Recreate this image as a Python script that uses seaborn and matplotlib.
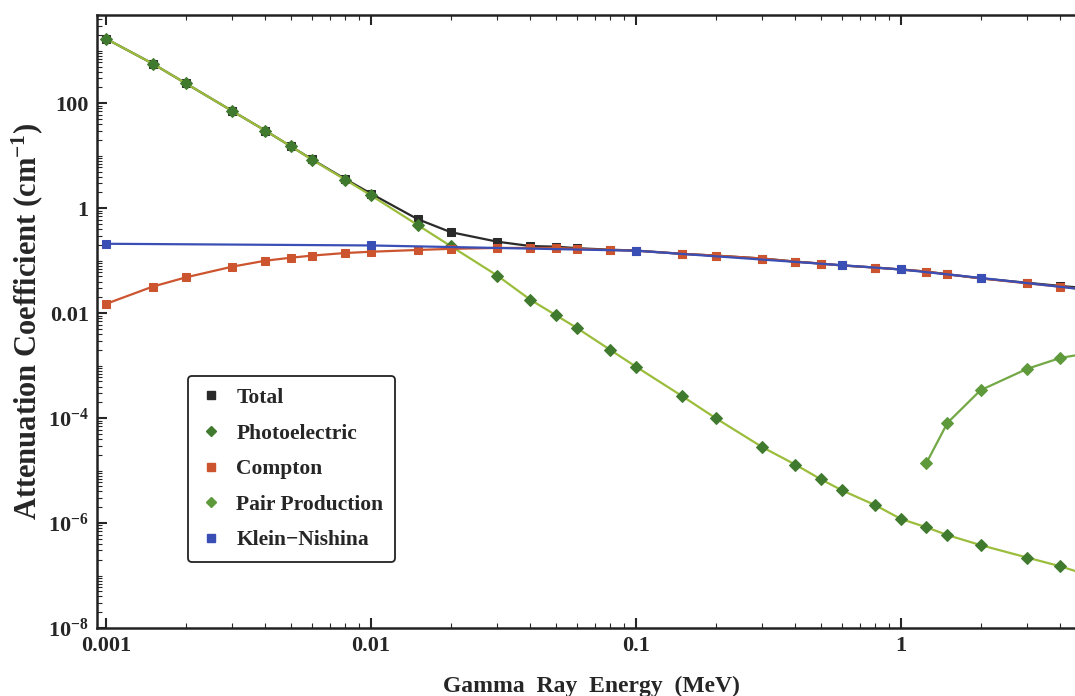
import numpy as np
import pandas as pd
import matplotlib
matplotlib.use("Agg")
import matplotlib.pyplot as plt
import seaborn as sns
from matplotlib.lines import Line2D
from matplotlib.ticker import FixedLocator, LogLocator, NullFormatter

# energies (MeV)
energy = [0.001, 0.0015, 0.002, 0.003, 0.004, 0.005, 0.006, 0.008, 0.01, 0.015, 0.02,
          0.03, 0.04, 0.05, 0.06, 0.08, 0.1, 0.15, 0.2, 0.3, 0.4, 0.5, 0.6, 0.8, 1.0,
          1.25, 1.5, 2.0, 3.0, 4.0, 5.0]

total = [1700, 570, 240, 71, 30, 15, 8.5, 3.6, 1.9, 0.62, 0.35, 0.23, 0.19, 0.185, 0.173,
         0.162, 0.156, 0.135, 0.125, 0.11, 0.096, 0.088, 0.081, 0.074, 0.068, 0.062, 0.055,
         0.046, 0.038, 0.033, 0.03]

photo = [1700, 570, 240, 71, 30, 15, 8.4, 3.5, 1.76, 0.48, 0.19, 0.052, 0.018, 0.0091,
         0.0052, 0.0020, 0.00096, 0.00026, 0.0001, 2.8e-5, 1.3e-5, 6.8e-6, 4.2e-6, 2.2e-6,
         1.2e-6, 8.3e-7, 5.9e-7, 3.8e-7, 2.2e-7, 1.5e-7, 1.05e-7]

compton = [0.015, 0.032, 0.048, 0.077, 0.1, 0.114, 0.125, 0.14, 0.148, 0.16, 0.168, 0.175,
           0.175, 0.175, 0.168, 0.16, 0.155, 0.135, 0.125, 0.11, 0.096, 0.088, 0.081, 0.074,
           0.068, 0.062, 0.055, 0.046, 0.037, 0.032, 0.028]

pair_energy = [1.25, 1.5, 2.0, 3.0, 4.0, 5.0]
pair = [1.4e-5, 8.1e-5, 3.4e-4, 8.7e-4, 1.4e-3, 1.7e-3]

kn_energy = [0.001, 0.01, 0.1, 0.6, 1.0, 2.0, 5.0]
kn = [0.21, 0.195, 0.155, 0.082, 0.068, 0.047, 0.028]

sns.set_style("ticks")
plt.rcParams['font.family'] = ['Liberation Serif', 'DejaVu Serif']
plt.rcParams['font.weight'] = 'bold'
plt.rcParams['mathtext.fontset'] = 'custom'
plt.rcParams['mathtext.rm'] = 'Liberation Serif:bold'
plt.rcParams['mathtext.it'] = 'Liberation Serif:bold'
plt.rcParams['mathtext.bf'] = 'Liberation Serif:bold'

fig = plt.figure(figsize=(10.75, 6.96), dpi=100)
ax = fig.add_axes([0.0902, 0.0977, 0.920, 0.8807])

c_black = '#2a2a2a'
c_photo_line = '#9bbd3c'
c_photo_mk = '#3f7a2e'
c_red = '#cc5530'
c_pair_line = '#72a845'
c_pair_mk = '#5e9a3c'
c_blue = '#3a4fb5'

sns.lineplot(x=energy, y=total, ax=ax, color=c_black, lw=1.6, marker='s', ms=6.3,
             markerfacecolor=c_black, markeredgecolor=c_black, sort=False)
sns.lineplot(x=energy, y=photo, ax=ax, color=c_photo_line, lw=1.6, marker='D', ms=6,
             markerfacecolor=c_photo_mk, markeredgecolor=c_photo_mk, sort=False)
sns.lineplot(x=energy, y=compton, ax=ax, color=c_red, lw=1.6, marker='s', ms=6.3,
             markerfacecolor=c_red, markeredgecolor=c_red, sort=False)
sns.lineplot(x=pair_energy, y=pair, ax=ax, color=c_pair_line, lw=1.6, marker='D', ms=6,
             markerfacecolor=c_pair_mk, markeredgecolor=c_pair_mk, sort=False)
sns.lineplot(x=kn_energy, y=kn, ax=ax, color=c_blue, lw=1.6, marker='s', ms=6.3,
             markerfacecolor=c_blue, markeredgecolor=c_blue, sort=False)

ax.set_xscale('log')
ax.set_yscale('log')
ax.set_xlim(0.000925, 5.0)
ax.set_ylim(1e-8, 4800)

ax.xaxis.set_major_locator(FixedLocator([0.001, 0.01, 0.1, 1]))
ax.set_xticklabels(['0.001', '0.01', '0.1', '1'])
ax.xaxis.set_minor_locator(LogLocator(base=10, subs=np.arange(2, 10)))
ax.xaxis.set_minor_formatter(NullFormatter())

ax.yaxis.set_major_locator(FixedLocator([1e-8, 1e-6, 1e-4, 1e-2, 1, 100]))
ax.set_yticklabels(['$10^{-8}$', '$10^{-6}$', '$10^{-4}$', '0.01', '1', '100'])
ax.yaxis.set_minor_locator(LogLocator(base=10, subs=np.arange(1, 10), numticks=30))
ax.yaxis.set_minor_formatter(NullFormatter())

ax.tick_params(axis='both', which='major', direction='in', length=7, width=1.5,
               top=True, right=True, labelsize=16, pad=6)
ax.tick_params(axis='both', which='minor', direction='in', length=3.5, width=0.8,
               top=True, right=True)
for lab in ax.get_xticklabels() + ax.get_yticklabels():
    lab.set_fontweight('bold')
for sp in ax.spines.values():
    sp.set_linewidth(1.8)
    sp.set_color('#222222')

ax.set_xlabel('Gamma  Ray  Energy  (MeV)', fontsize=17, fontweight='bold', labelpad=14)
ax.set_ylabel('Attenuation Coefficient (cm$^{-1}$)', fontsize=22, fontweight='bold', labelpad=2)

handles = [
    Line2D([], [], ls='none', marker='s', ms=6, color=c_black),
    Line2D([], [], ls='none', marker='D', ms=5.5, color=c_photo_mk),
    Line2D([], [], ls='none', marker='s', ms=6, color=c_red),
    Line2D([], [], ls='none', marker='D', ms=5.5, color=c_pair_mk),
    Line2D([], [], ls='none', marker='s', ms=6, color=c_blue),
]
labels = ['Total', 'Photoelectric', 'Compton', 'Pair Production', 'Klein\u2212Nishina']
leg = ax.legend(handles, labels, loc='upper left', bbox_to_anchor=(0.092, 0.411),
                prop={'family': 'Liberation Serif', 'weight': 'bold', 'size': 15.5},
                frameon=True, fancybox=True, edgecolor='#222222', framealpha=1,
                handletextpad=0.7, labelspacing=0.72, borderpad=0.55, handlelength=1.0,
                borderaxespad=0)
leg.get_frame().set_linewidth(1.3)

fig.savefig('out.png', dpi=100)
